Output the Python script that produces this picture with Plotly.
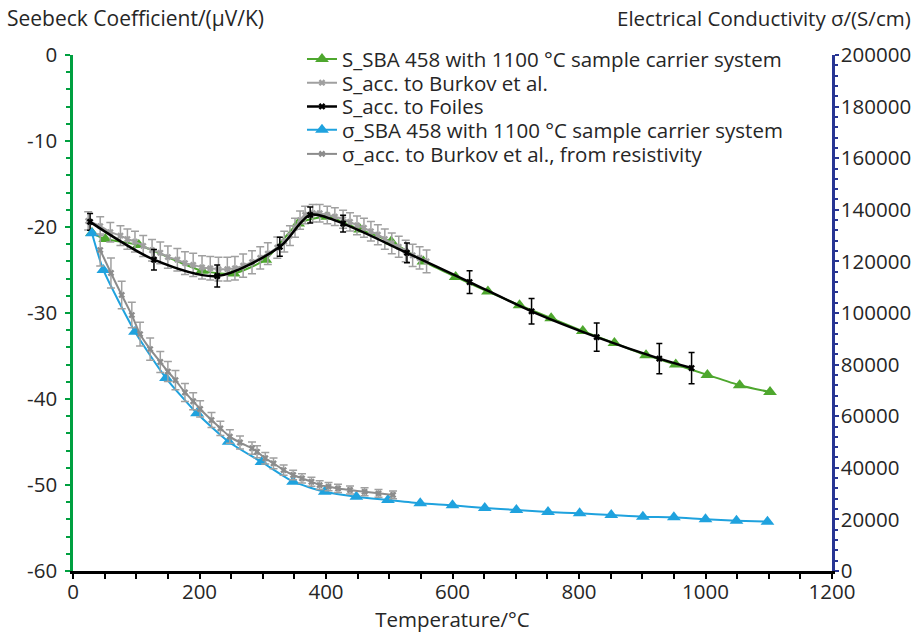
import plotly.graph_objects as go

# ---------------- data ----------------
# Seebeck coefficient, SBA 458 (green triangles)
t_s_sba = [30, 51, 104, 204, 254, 304, 356, 402, 454, 503, 554, 605, 656, 706, 756, 806, 856, 906, 953, 1003, 1054, 1102]
s_sba = [-20.7, -21.4, -22.1, -25.1, -25.4, -23.8, -19.6, -18.8, -20.3, -21.7, -24.0, -25.8, -27.5, -29.1, -30.6, -32.1, -33.5, -34.9, -36.0, -37.2, -38.4, -39.2]

# Seebeck coefficient acc. to Burkov et al. (grey)
t_s_burkov = [24, 43, 59, 75, 86, 98, 111, 125, 138, 150, 165, 177, 190, 204, 217, 230, 244, 256, 269, 283, 296, 308, 323, 334, 343, 351, 359, 367, 379, 390, 402, 414, 427, 438, 449, 460, 471, 482, 493, 504, 515, 526, 537, 548, 559]
s_burkov = [-19.3, -19.9, -20.6, -21.0, -21.4, -21.7, -22.2, -22.7, -23.0, -23.5, -23.8, -24.2, -24.4, -24.7, -24.8, -24.9, -24.9, -24.8, -24.5, -24.1, -23.6, -23.1, -22.4, -21.7, -21.0, -20.1, -19.2, -18.6, -18.4, -18.4, -18.6, -18.8, -19.1, -19.4, -19.8, -20.1, -20.5, -20.9, -21.4, -21.9, -22.3, -22.8, -23.3, -23.6, -24.0]

# Seebeck coefficient acc. to Foiles (black)
t_s_foiles = [27, 128, 228, 327, 375, 427, 528, 627, 725, 828, 927, 978]
s_foiles = [-19.4, -23.8, -25.7, -22.3, -18.6, -19.6, -23.0, -26.4, -29.8, -32.8, -35.3, -36.4]

# Electrical conductivity, SBA 458 (blue triangles)
t_c_sba = [30, 48, 98, 147, 196, 246, 298, 348, 398, 448, 498, 549, 600, 651, 701, 751, 801, 851, 901, 950, 1000, 1049, 1098]
c_sba = [130900, 116700, 92750, 74800, 61120, 50120, 42250, 34620, 30740, 28800, 27520, 26240, 25470, 24420, 23640, 22870, 22350, 21710, 21050, 20810, 20040, 19500, 19110]

# Electrical conductivity acc. to Burkov et al., from resistivity (grey)
t_c_burkov = [43, 60, 77, 93, 106, 122, 138, 150, 162, 177, 190, 201, 219, 233, 248, 264, 283, 291, 304, 317, 333, 348, 362, 377, 390, 404, 419, 438, 461, 483, 506]
c_burkov = [124400, 115500, 107000, 99200, 91800, 86000, 81000, 77300, 74000, 69200, 65800, 62800, 58500, 55300, 52100, 49800, 47600, 46200, 43700, 41700, 39100, 37200, 35900, 34600, 33300, 32700, 32000, 31400, 30700, 30100, 29500]

# tick labels
s_ticks = [0, -10, -20, -30, -40, -50, -60]
s_tick_text = ["0", "-10", "-20", "-30", "-40", "-50", "-60"]

names = [
    "S_SBA 458 with 1100 °C sample carrier system",
    "S_acc. to Burkov et al.",
    "S_acc. to Foiles",
    "σ_SBA 458 with 1100 °C sample carrier system",
    "σ_acc. to Burkov et al., from resistivity",
]

GREEN = "#4EA72E"
BLUE = "#1FA2DE"
GREY = "#A0A0A0"
GREY2 = "#8C8C8C"
FONT = "Open Sans"
TXT = "#262626"
FS = 20.5

fig = go.Figure()

fig.add_trace(go.Scatter(
    x=t_s_sba, y=s_sba, name=names[0], mode="lines+markers", legend="legend",
    line=dict(color=GREEN, width=2, shape="spline", smoothing=0.6),
    marker=dict(symbol="triangle-up", size=12, color=GREEN),
))
fig.add_trace(go.Scatter(
    x=t_s_burkov, y=s_burkov, name=names[1], mode="lines+markers", legend="legend2",
    line=dict(color=GREY, width=2, shape="spline", smoothing=0.6),
    marker=dict(symbol="x", size=6, color=GREY),
    error_y=dict(type="percent", value=5.5, color=GREY, thickness=1.5, width=4),
))
fig.add_trace(go.Scatter(
    x=t_s_foiles, y=s_foiles, name=names[2], mode="lines+markers", legend="legend3",
    line=dict(color="black", width=2.5, shape="spline", smoothing=0.8),
    marker=dict(symbol="x", size=6, color="black"),
    error_y=dict(type="percent", value=5, color="black", thickness=1.5, width=3),
))
fig.add_trace(go.Scatter(
    x=t_c_sba, y=c_sba, name=names[3], mode="lines+markers", yaxis="y2", legend="legend4",
    line=dict(color=BLUE, width=2, shape="spline", smoothing=0.6),
    marker=dict(symbol="triangle-up", size=12, color=BLUE),
))
fig.add_trace(go.Scatter(
    x=t_c_burkov, y=c_burkov, name=names[4], mode="lines+markers", yaxis="y2", legend="legend5",
    line=dict(color=GREY2, width=2, shape="spline", smoothing=0.6),
    marker=dict(symbol="x", size=6, color=GREY2),
    error_y=dict(type="percent", value=5, color=GREY, thickness=1.5, width=4),
))

# one legend box per entry so the row spacing matches the original
leg_common = dict(x=0.3017, xanchor="left", yanchor="middle", bgcolor="rgba(0,0,0,0)",
                  font=dict(family=FONT, size=FS, color=TXT), itemwidth=30)
leg_y = [0.992, 0.946, 0.900, 0.855, 0.808]

fig.update_layout(
    width=923, height=635,
    margin=dict(l=73, r=91, t=55, b=64),
    paper_bgcolor="white", plot_bgcolor="white",
    font=dict(family=FONT, size=FS, color=TXT),
    showlegend=True,
    legend=dict(y=leg_y[0], **leg_common),
    legend2=dict(y=leg_y[1], **leg_common),
    legend3=dict(y=leg_y[2], **leg_common),
    legend4=dict(y=leg_y[3], **leg_common),
    legend5=dict(y=leg_y[4], **leg_common),
    xaxis=dict(
        range=[0, 1200], dtick=200, tick0=0,
        showgrid=False, zeroline=False,
        showline=True, linecolor="black", linewidth=2.5,
        ticks="outside", ticklen=5, tickwidth=2, tickcolor="black",
        minor=dict(ticks="outside", ticklen=5, tickwidth=2, tickcolor="black", dtick=50),
        tickfont=dict(size=FS, color=TXT),
        ticklabelstandoff=-4,
        title=dict(text="Temperature/°C", font=dict(size=FS, color=TXT), standoff=2),
    ),
    yaxis=dict(
        range=[-60, 0], tickvals=s_ticks, ticktext=s_tick_text,
        showgrid=False, zeroline=False,
        showline=True, linecolor="#00A040", linewidth=2.5,
        ticks="outside", ticklen=5, tickwidth=2, tickcolor="#00A040",
        minor=dict(ticks="outside", ticklen=4, tickwidth=2, tickcolor="#00A040", dtick=2),
        tickfont=dict(size=FS, color=TXT),
        ticklabelstandoff=4,
    ),
    yaxis2=dict(
        range=[0, 200000], dtick=20000, tick0=0,
        overlaying="y", side="right",
        showgrid=False, zeroline=False,
        showline=True, linecolor="#283593", linewidth=2.5,
        ticks="outside", ticklen=4, tickwidth=2, tickcolor="#283593",
        minor=dict(ticks="outside", ticklen=3, tickwidth=2, tickcolor="#283593", dtick=4000),
        tickfont=dict(size=FS, color=TXT),
        tickformat="d",
        ticklabelstandoff=-2,
    ),
    annotations=[
        dict(text="Seebeck Coefficient/(μV/K)", xref="paper", yref="paper",
             x=-0.090, y=1.072, xanchor="left", yanchor="middle", showarrow=False,
             font=dict(size=21, color=TXT)),
        dict(text="Electrical Conductivity σ/(S/cm)", xref="paper", yref="paper",
             x=1.107, y=1.072, xanchor="right", yanchor="middle", showarrow=False,
             font=dict(size=FS, color=TXT)),
    ],
)

fig.write_html("out.html", config={"displayModeBar": False},
               post_script="document.body.style.margin='0';")
